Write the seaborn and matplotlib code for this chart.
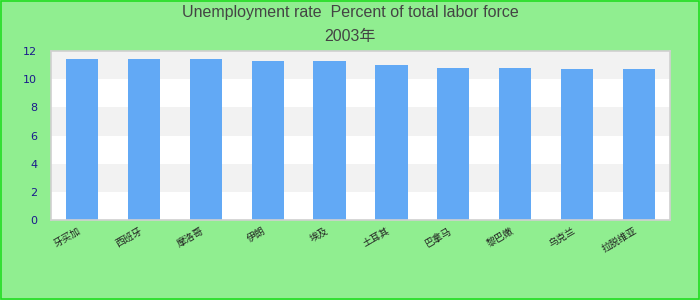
import matplotlib
matplotlib.use("Agg")
import matplotlib.pyplot as plt
import seaborn as sns
import pandas as pd
from matplotlib.patches import Rectangle

countries = ["牙买加", "西班牙", "摩洛哥", "伊朗", "埃及", "土耳其", "巴拿马", "黎巴嫩", "乌克兰", "拉脱维亚"]
values = [11.43, 11.43, 11.42, 11.3, 11.3, 11.02, 10.8, 10.8, 10.72, 10.72]
yticks = [0, 2, 4, 6, 8, 10, 12]
title_line1 = "Unemployment rate  Percent of total labor force"
title_line2 = "2003年"

sns.set_theme(style="white")
plt.rcParams['font.family'] = ['Liberation Sans', 'Noto Sans CJK SC', 'DejaVu Sans']

df = pd.DataFrame({"country": countries, "value": values})

fig = plt.figure(figsize=(7, 3), dpi=100, facecolor="#90EE90")
ax = fig.add_axes([51/700, 80/300, 619/700, 169/300])
ax.set_facecolor("white")

# alternating bands
for i in range(len(yticks) - 1):
    if i % 2 == 1:
        ax.axhspan(yticks[i], yticks[i + 1], color="#f2f2f2", zorder=0, lw=0)

sns.barplot(data=df, x="country", y="value", color="#62A9F5", saturation=1,
            width=0.52, ax=ax, zorder=2, linewidth=0, edgecolor="none")

ax.set_xlim(-0.5, len(countries) - 0.5)
ax.set_ylim(0, 12)
ax.set_yticks(yticks)
ax.set_yticklabels([str(t) for t in yticks], color="#1a1a8c", fontsize=8,
                   family=['DejaVu Sans'])
ax.set_xlabel("")
ax.set_ylabel("")
ax.tick_params(axis="y", length=0, pad=10)
ax.tick_params(axis="x", length=0, pad=4)
ax.set_xticks(range(len(countries)))
ax.set_xticklabels(countries, rotation=30, ha="right", fontsize=7, color="#222222",
                   family=['Noto Sans CJK SC', 'DejaVu Sans'])
for s in ax.spines.values():
    s.set_color("#d0d0d0")
    s.set_linewidth(1.2)

fig.text(0.5, 1 - 13/300, title_line1, ha="center", va="center", fontsize=11.5,
         color="#444444")
fig.text(0.5, 1 - 37/300, title_line2, ha="center", va="center", fontsize=11.5,
         color="#444444", family=['Liberation Sans', 'Noto Sans CJK SC'])

fig.patches.append(Rectangle((0.001, 0.002), 0.997, 0.996, transform=fig.transFigure,
                             fill=False, edgecolor="#22dd22", lw=1.2))

fig.savefig("out.png", dpi=100, facecolor=fig.get_facecolor())
